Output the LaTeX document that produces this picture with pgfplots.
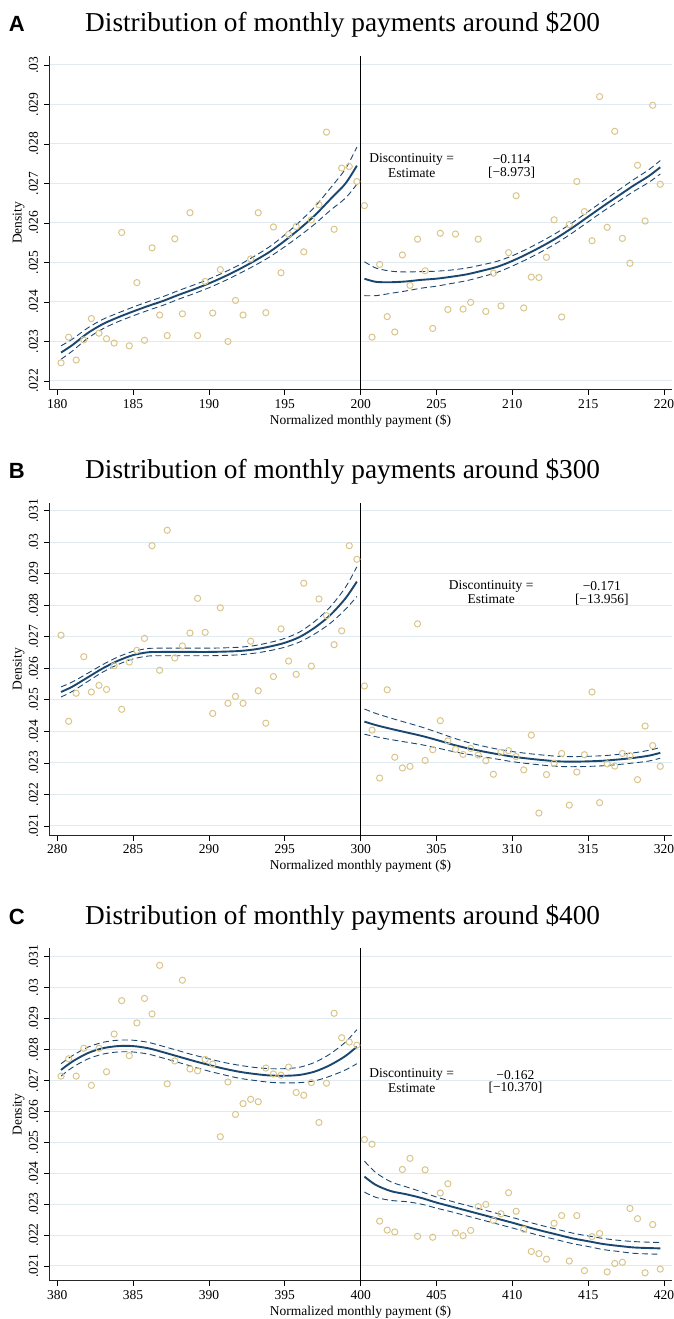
\documentclass[border=0pt]{standalone}
\usepackage{fontspec}
\setmainfont{Liberation Serif}
\newfontfamily\panelfont{Liberation Sans}
\usepackage{graphicx}
\usepackage{pgfplots}
\usepackage{pgfplotstable}
\pgfplotsset{compat=1.18}

\definecolor{fitblue}{RGB}{26,71,111}
\definecolor{sand}{RGB}{218,197,138}
\definecolor{gridc}{RGB}{224,235,241}

\newcommand\smallfont{\fontsize{13.5}{16}\selectfont}
\newcommand\titlefont{\fontsize{27.3}{32}\selectfont}
\newcommand\letterfont{\panelfont\bfseries\fontsize{22}{26}\selectfont}

% ---------- binned densities ----------
\pgfplotstableread{
x y
180.25 .02246
180.75 .02311
181.25 .02253
181.75 .02304
182.25 .02358
182.75 .02321
183.25 .02307
183.75 .02296
184.25 .02576
184.75 .02289
185.25 .02449
185.75 .02303
186.25 .02537
186.75 .02367
187.25 .02315
187.75 .02560
188.25 .02370
188.75 .02626
189.25 .02315
189.75 .02452
190.25 .02372
190.75 .02482
191.25 .02300
191.75 .02404
192.25 .02367
192.75 .02509
193.25 .02626
193.75 .02373
194.25 .02590
194.75 .02474
195.25 .02571
195.75 .02591
196.25 .02527
196.75 .02608
197.25 .02646
197.75 .02830
198.25 .02584
198.75 .02739
199.25 .02743
199.75 .02705
200.25 .02644
200.75 .02311
201.25 .02495
201.75 .02363
202.25 .02324
202.75 .02519
203.25 .02442
203.75 .02559
204.25 .02479
204.75 .02333
205.25 .02574
205.75 .02381
206.25 .02572
206.75 .02382
207.25 .02399
207.75 .02559
208.25 .02376
208.75 .02473
209.25 .02390
209.75 .02525
210.25 .02669
210.75 .02385
211.25 .02463
211.75 .02462
212.25 .02513
212.75 .02608
213.25 .02362
213.75 .02596
214.25 .02705
214.75 .02629
215.25 .02555
215.75 .02920
216.25 .02589
216.75 .02832
217.25 .02561
217.75 .02498
218.25 .02746
218.75 .02605
219.25 .02898
219.75 .02698
}\binsA

\pgfplotstableread{
x y
280.25 .02705
280.75 .02432
281.25 .02521
281.75 .02637
282.25 .02525
282.75 .02546
283.25 .02533
283.75 .02608
284.25 .02470
284.75 .02620
285.25 .02657
285.75 .02695
286.25 .02989
286.75 .02594
287.25 .03038
287.75 .02633
288.25 .02671
288.75 .02712
289.25 .02822
289.75 .02714
290.25 .02457
290.75 .02792
291.25 .02489
291.75 .02511
292.25 .02489
292.75 .02686
293.25 .02529
293.75 .02426
294.25 .02574
294.75 .02725
295.25 .02623
295.75 .02581
296.25 .02870
296.75 .02607
297.25 .02820
297.75 .02767
298.25 .02675
298.75 .02719
299.25 .02989
299.75 .02946
300.25 .02544
300.75 .02404
301.25 .02252
301.75 .02532
302.25 .02318
302.75 .02284
303.25 .02289
303.75 .02741
304.25 .02308
304.75 .02342
305.25 .02434
305.75 .02370
306.25 .02343
306.75 .02327
307.25 .02346
307.75 .02325
308.25 .02307
308.75 .02264
309.25 .02334
309.75 .02339
310.25 .02320
310.75 .02278
311.25 .02388
311.75 .02141
312.25 .02263
312.75 .02299
313.25 .02330
313.75 .02166
314.25 .02271
314.75 .02326
315.25 .02525
315.75 .02174
316.25 .02297
316.75 .02290
317.25 .02330
317.75 .02323
318.25 .02247
318.75 .02417
319.25 .02355
319.75 .02289
}\binsB

\pgfplotstableread{
x y
380.25 .02714
380.75 .02770
381.25 .02714
381.75 .02804
382.25 .02684
382.75 .02804
383.25 .02728
383.75 .02850
384.25 .02958
384.75 .02780
385.25 .02886
385.75 .02965
386.25 .02915
386.75 .03072
387.25 .02689
387.75 .02763
388.25 .03024
388.75 .02737
389.25 .02731
389.75 .02768
390.25 .02753
390.75 .02518
391.25 .02695
391.75 .02590
392.25 .02625
392.75 .02639
393.25 .02631
393.75 .02740
394.25 .02721
394.75 .02717
395.25 .02743
395.75 .02661
396.25 .02652
396.75 .02693
397.25 .02564
397.75 .02691
398.25 .02917
398.75 .02838
399.25 .02824
399.75 .02814
400.25 .02509
400.75 .02494
401.25 .02245
401.75 .02216
402.25 .02210
402.75 .02412
403.25 .02448
403.75 .02196
404.25 .02411
404.75 .02193
405.25 .02336
405.75 .02366
406.25 .02207
406.75 .02198
407.25 .02215
407.75 .02292
408.25 .02299
408.75 .02247
409.25 .02269
409.75 .02337
410.25 .02277
410.75 .02219
411.25 .02147
411.75 .02140
412.25 .02122
412.75 .02238
413.25 .02263
413.75 .02116
414.25 .02263
414.75 .02085
415.25 .02195
415.75 .02205
416.25 .02081
416.75 .02108
417.25 .02112
417.75 .02286
418.25 .02253
418.75 .02078
419.25 .02234
419.75 .02090
}\binsC

% ---------- local polynomial fits with confidence bands ----------
\pgfplotstableread{
x f lo hi
180.25 .02272 .02255 .02289
181 .02291 .02276 .02306
182 .02321 .02308 .02334
183 .02344 .02332 .02356
184 .02361 .02350 .02372
185 .02376 .02365 .02387
186 .02390 .02379 .02401
187 .02403 .02392 .02414
188 .02418 .02407 .02429
189 .02432 .02421 .02443
190 .02447 .02436 .02458
191 .02464 .02453 .02475
192 .02483 .02472 .02494
193 .02504 .02492 .02516
194 .02527 .02514 .02540
195 .02555 .02540 .02570
196 .02586 .02568 .02604
197 .02620 .02598 .02642
198 .02660 .02632 .02688
199 .02700 .02663 .02737
199.75 .02745 .02698 .02792
}\fitAL
\pgfplotstableread{
x f lo hi
200.25 .02459 .02416 .02502
201 .02451 .02416 .02486
202 .02450 .02422 .02478
203 .02452 .02428 .02476
204 .02456 .02435 .02477
205 .02459 .02440 .02478
206 .02464 .02447 .02481
207 .02470 .02454 .02486
208 .02479 .02464 .02494
209 .02489 .02475 .02503
210 .02504 .02491 .02517
211 .02522 .02509 .02535
212 .02542 .02529 .02555
213 .02564 .02551 .02577
214 .02589 .02576 .02602
215 .02616 .02603 .02629
216 .02643 .02630 .02656
217 .02669 .02655 .02683
218 .02695 .02680 .02710
219 .02719 .02703 .02735
219.75 .02741 .02724 .02758
}\fitAR
\pgfplotstableread{
x f lo hi
280.25 .02525 .02509 .02541
281 .02542 .02527 .02557
282 .02571 .02558 .02584
283 .02600 .02588 .02612
284 .02624 .02612 .02636
285 .02642 .02630 .02654
286 .02651 .02639 .02663
287 .02652 .02640 .02664
288 .02652 .02640 .02664
289 .02652 .02640 .02664
290 .02652 .02640 .02664
291 .02653 .02641 .02665
292 .02655 .02643 .02667
293 .02660 .02648 .02672
294 .02669 .02656 .02682
295 .02681 .02667 .02695
296 .02700 .02684 .02716
297 .02730 .02710 .02750
298 .02769 .02743 .02795
299 .02822 .02787 .02857
299.75 .02875 .02828 .02922
}\fitBL
\pgfplotstableread{
x f lo hi
300.25 .02431 .02391 .02471
301 .02420 .02383 .02457
302 .02408 .02374 .02442
303 .02397 .02366 .02428
304 .02386 .02358 .02414
305 .02373 .02348 .02398
306 .02359 .02337 .02381
307 .02347 .02328 .02366
308 .02337 .02320 .02354
309 .02328 .02312 .02344
310 .02320 .02304 .02336
311 .02314 .02298 .02330
312 .02309 .02293 .02325
313 .02305 .02289 .02321
314 .02304 .02288 .02320
315 .02305 .02289 .02321
316 .02307 .02291 .02323
317 .02311 .02295 .02327
318 .02316 .02300 .02332
319 .02323 .02306 .02340
319.75 .02332 .02315 .02349
}\fitBR
\pgfplotstableread{
x f lo hi
380.25 .02734 .02714 .02754
381 .02761 .02742 .02780
382 .02788 .02769 .02807
383 .02804 .02785 .02823
384 .02811 .02792 .02830
385 .02811 .02792 .02830
386 .02804 .02785 .02823
387 .02791 .02772 .02810
388 .02777 .02758 .02796
389 .02763 .02744 .02782
390 .02750 .02730 .02770
391 .02738 .02718 .02758
392 .02728 .02707 .02749
393 .02721 .02700 .02742
394 .02716 .02694 .02738
395 .02715 .02692 .02738
396 .02718 .02693 .02743
397 .02729 .02699 .02759
398 .02750 .02714 .02786
399 .02779 .02734 .02824
399.75 .02809 .02754 .02864
}\fitCL
\pgfplotstableread{
x f lo hi
400.25 .02389 .02339 .02439
401 .02362 .02322 .02402
402 .02342 .02312 .02372
403 .02332 .02308 .02356
404 .02320 .02300 .02340
405 .02305 .02287 .02323
406 .02292 .02275 .02309
407 .02279 .02262 .02296
408 .02266 .02249 .02283
409 .02253 .02236 .02270
410 .02240 .02223 .02257
411 .02226 .02209 .02243
412 .02213 .02196 .02230
413 .02201 .02184 .02218
414 .02189 .02172 .02206
415 .02180 .02163 .02197
416 .02171 .02153 .02189
417 .02165 .02147 .02183
418 .02160 .02141 .02179
419 .02158 .02139 .02177
419.75 .02157 .02138 .02176
}\fitCR

\pgfplotsset{
  rdd/.style={
    scale only axis, width=622pt,
    axis x line*=bottom, axis y line*=left,
    axis line style={black!85, line width=1pt, -},
    every tick/.style={black, line width=0.8pt},
    tick align=outside, major tick length=5pt,
    ymajorgrids, grid style={gridc, line width=1pt},
    scaled x ticks=false, scaled y ticks=false,
    ticklabel style={font=\smallfont, inner sep=0pt, outer sep=0pt},
    xticklabel style={anchor=north},
    yticklabel style={rotate=90, anchor=base},
    xticklabel shift=4.3pt, yticklabel shift=6.7pt,
    /pgf/number format/assume math mode=true,
    xlabel={Normalized monthly payment (\$)},
    ylabel={Density},
    label style={font=\smallfont, inner sep=0pt, outer sep=0pt},
    xlabel style={at={(axis description cs:0.5,0)}, anchor=north, yshift=-24.5pt},
    ylabel style={at={(axis description cs:-0.045,0.5)}, anchor=base},
  },
  bins/.style={only marks, mark=o, mark size=3.1pt,
    mark options={draw=sand, line width=1pt}},
  fit/.style={fitblue, line width=1.9pt, smooth, no marks},
  band/.style={fitblue, line width=0.9pt, smooth, no marks,
    dash pattern=on 6pt off 3.5pt},
  cutoff/.style={black, line width=1.2pt, no marks},
}

\begin{document}
\begin{tikzpicture}
\useasboundingbox (0pt,0pt) rectangle (674pt,1319pt);

% ---------------- Panel A ----------------
\node[anchor=base west, inner sep=0pt] at (8.6pt,1287pt) {\letterfont A};
\node[anchor=base west, inner sep=0pt] at (85pt,1287pt)
  {\titlefont Distribution of monthly payments around \$200};
\begin{axis}[rdd, at={(49.5pt,929pt)}, anchor=south west, height=334pt,
  xmin=179.49, xmax=220.49, ymin=0.021772, ymax=0.030228,
  xtick={180,185,...,220},
  ytick={0.022,0.023,0.024,0.025,0.026,0.027,0.028,0.029,0.03},
  yticklabels={.022,.023,.024,.025,.026,.027,.028,.029,.03}]
  \addplot[bins] table[x=x,y=y]{\binsA};
  \addplot[band] table[x=x,y=lo]{\fitAL};
  \addplot[band] table[x=x,y=hi]{\fitAL};
  \addplot[fit] table[x=x,y=f]{\fitAL};
  \addplot[band] table[x=x,y=lo]{\fitAR};
  \addplot[band] table[x=x,y=hi]{\fitAR};
  \addplot[fit] table[x=x,y=f]{\fitAR};
  \addplot[cutoff] coordinates {(200,0.021772) (200,0.030228)};
  \node[font=\smallfont] at (axis cs:203.36,0.02762) {Discontinuity =};
  \node[font=\smallfont] at (axis cs:203.36,0.02727) {Estimate};
  \node[font=\smallfont] at (axis cs:209.95,0.02762) {−0.114};
  \node[font=\smallfont] at (axis cs:209.95,0.02727) {[−8.973]};
\end{axis}

% ---------------- Panel B ----------------
\node[anchor=base west, inner sep=0pt] at (8.6pt,840.3pt) {\letterfont B};
\node[anchor=base west, inner sep=0pt] at (85pt,840.3pt)
  {\titlefont Distribution of monthly payments around \$300};
\begin{axis}[rdd, at={(49.5pt,483.3pt)}, anchor=south west, height=333pt,
  xmin=279.49, xmax=320.49, ymin=0.020692, ymax=0.031254,
  xtick={280,285,...,320},
  ytick={0.021,0.022,0.023,0.024,0.025,0.026,0.027,0.028,0.029,0.03,0.031},
  yticklabels={.021,.022,.023,.024,.025,.026,.027,.028,.029,.03,.031}]
  \addplot[bins] table[x=x,y=y]{\binsB};
  \addplot[band] table[x=x,y=lo]{\fitBL};
  \addplot[band] table[x=x,y=hi]{\fitBL};
  \addplot[fit] table[x=x,y=f]{\fitBL};
  \addplot[band] table[x=x,y=lo]{\fitBR};
  \addplot[band] table[x=x,y=hi]{\fitBR};
  \addplot[fit] table[x=x,y=f]{\fitBR};
  \addplot[cutoff] coordinates {(300,0.020692) (300,0.031254)};
  \node[font=\smallfont] at (axis cs:308.6,0.02861) {Discontinuity =};
  \node[font=\smallfont] at (axis cs:308.6,0.02819) {Estimate};
  \node[font=\smallfont] at (axis cs:315.9,0.02861) {−0.171};
  \node[font=\smallfont] at (axis cs:315.9,0.02819) {[−13.956]};
\end{axis}

% ---------------- Panel C ----------------
\node[anchor=base west, inner sep=0pt] at (8.6pt,394.7pt) {\letterfont C};
\node[anchor=base west, inner sep=0pt] at (85pt,394.7pt)
  {\titlefont Distribution of monthly payments around \$400};
\begin{axis}[rdd, at={(49.5pt,38pt)}, anchor=south west, height=332.7pt,
  xmin=379.49, xmax=420.49, ymin=0.020515, ymax=0.031272,
  xtick={380,385,...,420},
  ytick={0.021,0.022,0.023,0.024,0.025,0.026,0.027,0.028,0.029,0.03,0.031},
  yticklabels={.021,.022,.023,.024,.025,.026,.027,.028,.029,.03,.031}]
  \addplot[bins] table[x=x,y=y]{\binsC};
  \addplot[band] table[x=x,y=lo]{\fitCL};
  \addplot[band] table[x=x,y=hi]{\fitCL};
  \addplot[fit] table[x=x,y=f]{\fitCL};
  \addplot[band] table[x=x,y=lo]{\fitCR};
  \addplot[band] table[x=x,y=hi]{\fitCR};
  \addplot[fit] table[x=x,y=f]{\fitCR};
  \addplot[cutoff] coordinates {(400,0.020515) (400,0.031272)};
  \node[font=\smallfont] at (axis cs:403.36,0.02718) {Discontinuity =};
  \node[font=\smallfont] at (axis cs:403.36,0.02675) {Estimate};
  \node[font=\smallfont] at (axis cs:410.2,0.02718) {−0.162};
  \node[font=\smallfont] at (axis cs:410.2,0.02675) {[−10.370]};
\end{axis}
\end{tikzpicture}
\end{document}
